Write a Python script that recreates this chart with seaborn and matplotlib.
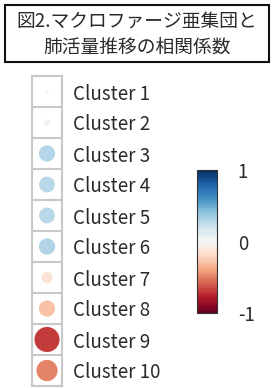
import numpy as np
import pandas as pd
import matplotlib
matplotlib.use("Agg")
import matplotlib.pyplot as plt
import seaborn as sns
from matplotlib.patches import Rectangle
from matplotlib.cm import ScalarMappable
from matplotlib.colors import Normalize

clusters = ["Cluster %d" % i for i in range(1, 11)]
corr = [0.02, 0.05, 0.29, 0.28, 0.28, 0.30, -0.14, -0.29, -0.70, -0.50]
title = "図2.マクロファージ亜集団と\n肺活量推移の相関係数"
cbar_ticks = [-1, 0, 1]
cbar_labels = ["-1", "0", "1"]

sns.set_style("white")
plt.rcParams["font.family"] = ["Noto Sans CJK JP", "DejaVu Sans"]

W, H = 272, 388
fig = plt.figure(figsize=(W / 100, H / 100), dpi=100)

df = pd.DataFrame({"cluster": clusters, "r": corr})
df["x"] = 0
df["y"] = np.arange(len(df))
df["abs_r"] = df["r"].abs()

# one column of cells, circle area ~ |r|
ax = fig.add_axes([32 / W, (H - 386) / H, 30 / W, 310 / H])
cell_pt = 30 * 72 / 100
sns.scatterplot(data=df, x="x", y="y", hue="r", palette="RdBu", hue_norm=(-1, 1),
                size="abs_r", sizes=(0, cell_pt ** 2), size_norm=(0, 1),
                legend=False, linewidth=0, ax=ax)
ax.set_xlim(-0.5, 0.5)
ax.set_ylim(len(df) - 0.5, -0.5)
for b in np.arange(len(df) + 1) - 0.5:
    ax.axhline(b, color="#c8c8c8", lw=1.5, zorder=0)
for s in ax.spines.values():
    s.set_color("#c8c8c8")
    s.set_linewidth(1.5)
ax.set_xticks([])
ax.set_xlabel("")
ax.set_ylabel("")
ax.set_yticks(df["y"])
ax.set_yticklabels(df["cluster"], fontsize=13.5, color="#2a2a2a")
ax.yaxis.tick_right()
ax.tick_params(axis="y", length=0, pad=8)

# colorbar
cax = fig.add_axes([197 / W, (H - 313) / H, 20 / W, 143 / H])
sm = ScalarMappable(norm=Normalize(-1, 1), cmap=plt.get_cmap("RdBu", 64))
cb = fig.colorbar(sm, cax=cax, ticks=cbar_ticks)
cb.ax.set_yticklabels(cbar_labels, fontsize=13.5, color="#2a2a2a")
cb.ax.tick_params(length=0, pad=15)
cb.outline.set_linewidth(0.8)
cb.outline.set_edgecolor("#333333")

# title box
fig.patches.append(Rectangle((5 / W, (H - 62) / H), 264 / W, 57 / H, transform=fig.transFigure,
                             fill=False, edgecolor="#111111", lw=1.5))
fig.text(137 / W, (H - 34) / H, title, ha="center", va="center", fontsize=13.5,
         linespacing=1.3, color="#2a2a2a")

fig.savefig("out.png", dpi=100)
